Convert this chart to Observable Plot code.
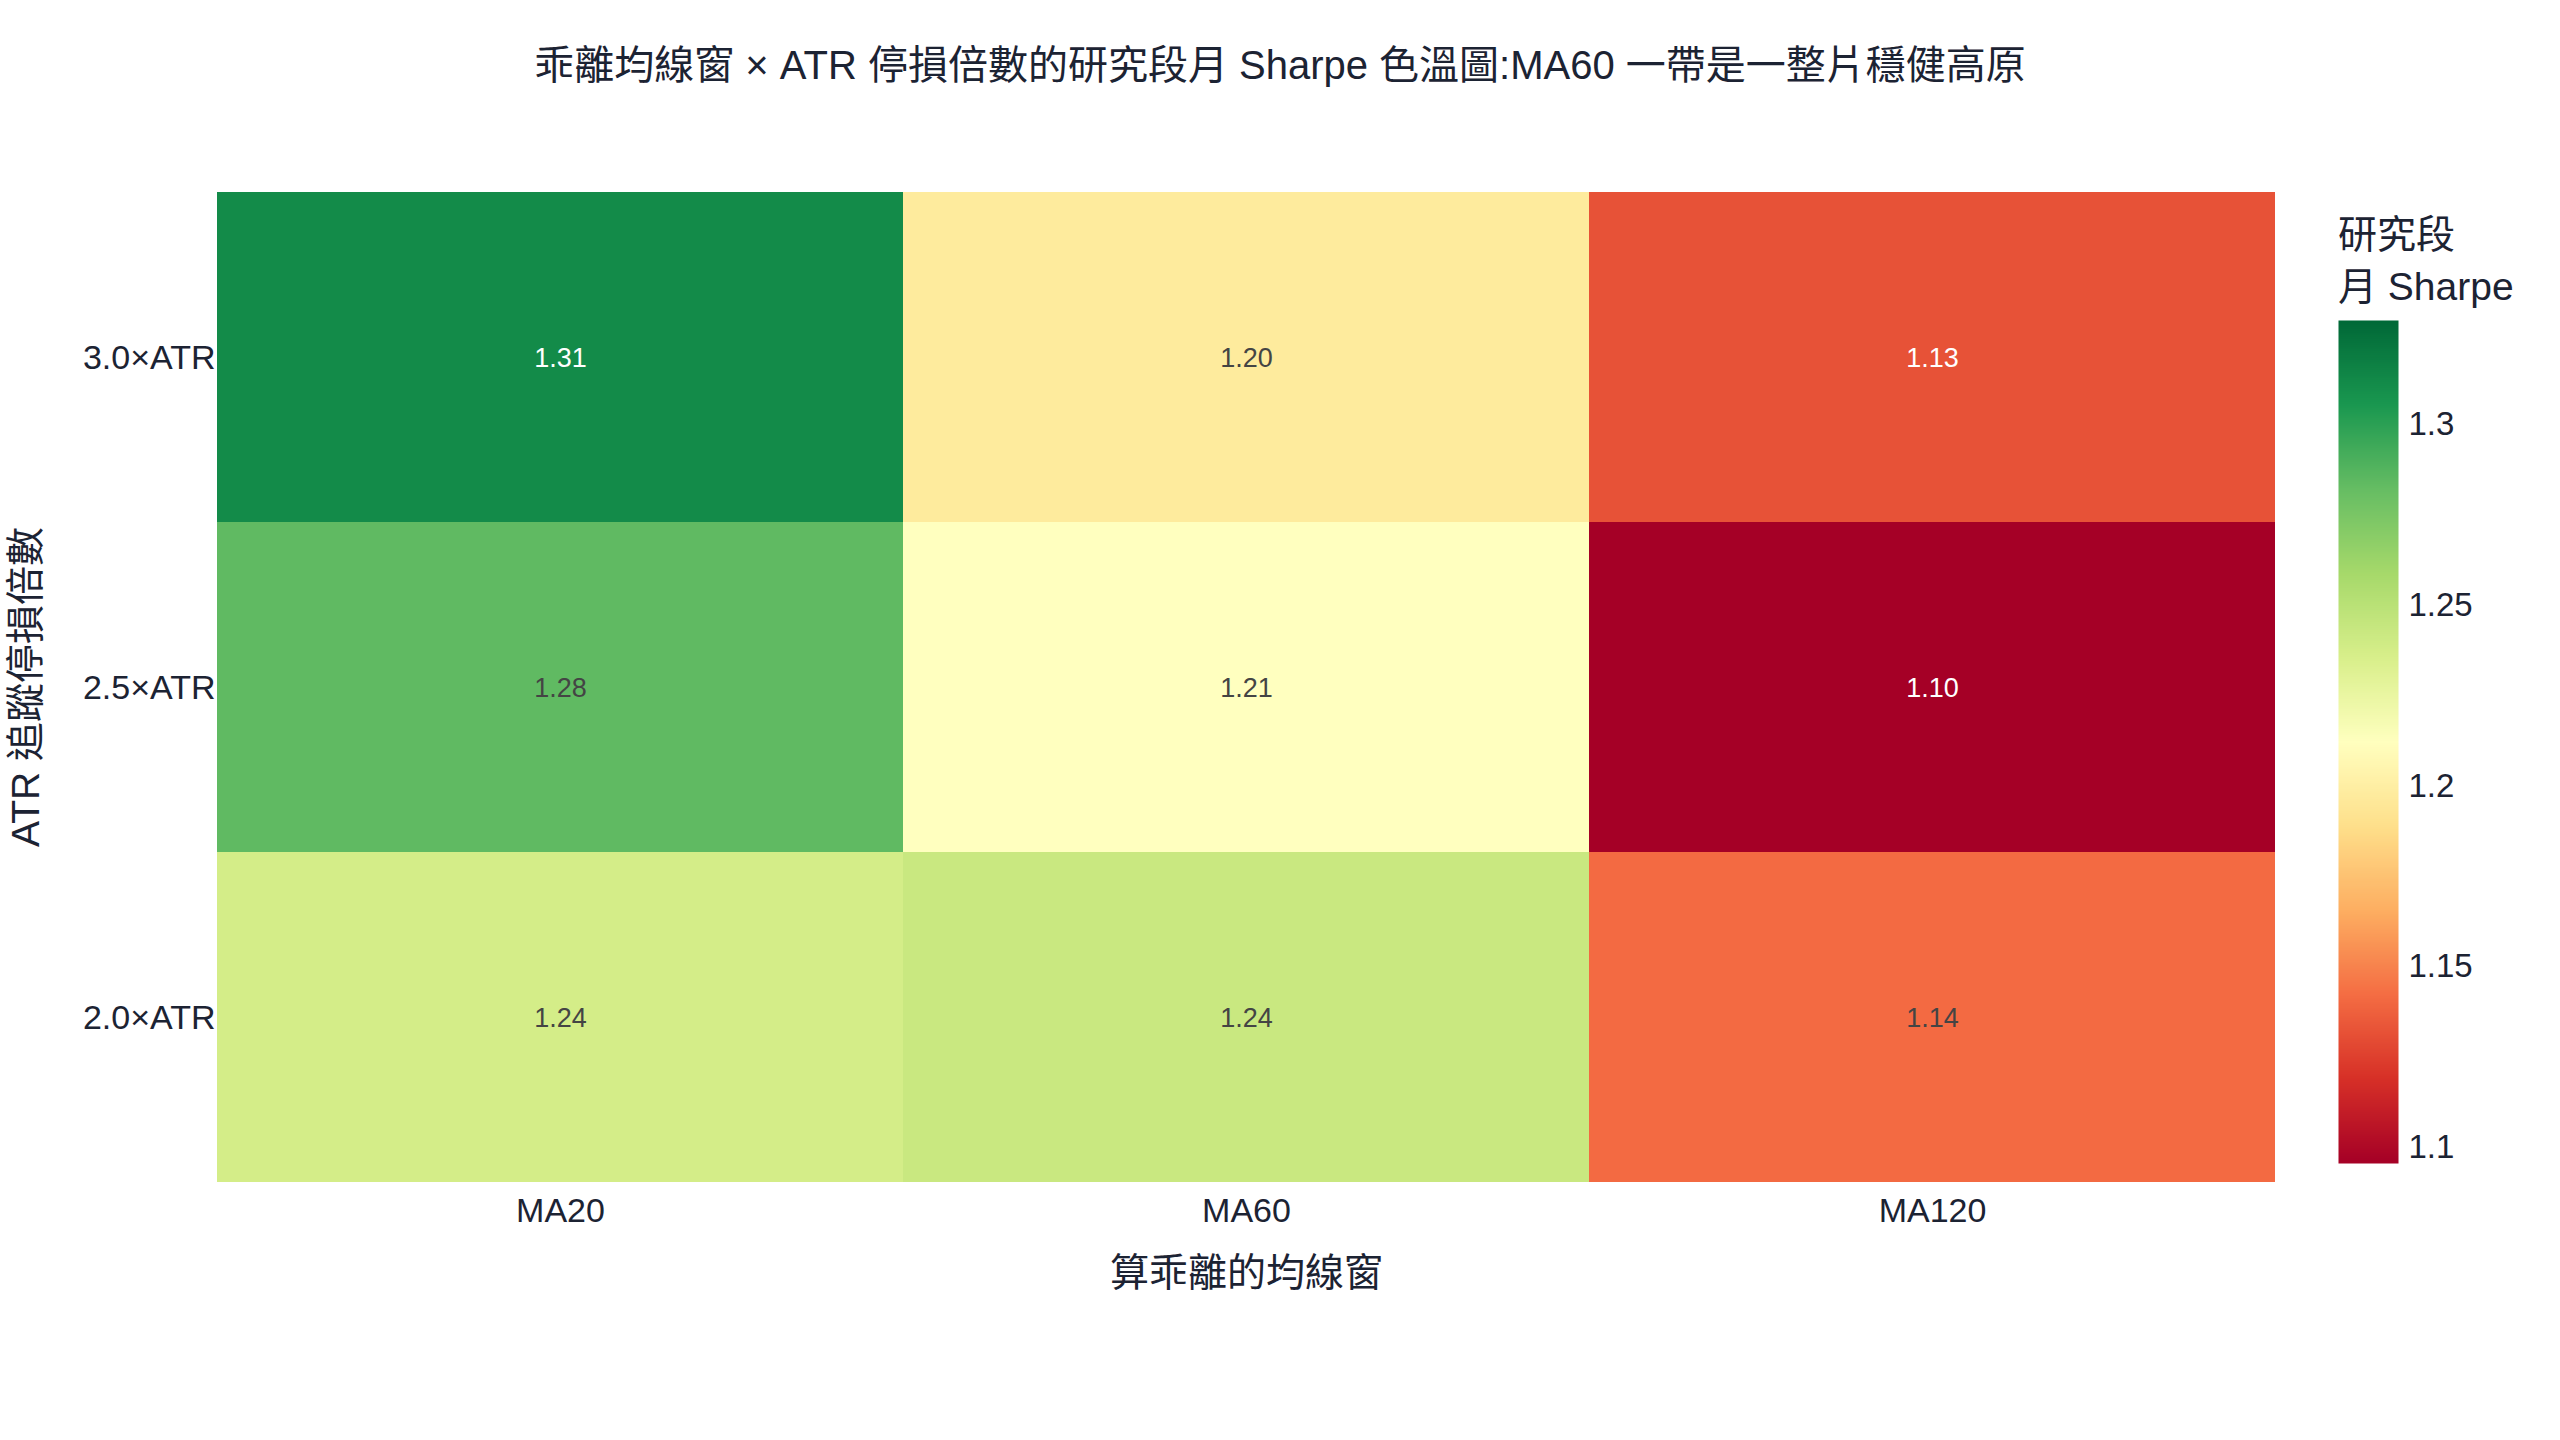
<!DOCTYPE html>
<html>
<head>
<meta charset="utf-8">
<script src="https://cdn.jsdelivr.net/npm/d3@7"></script>
<script src="https://cdn.jsdelivr.net/npm/@observablehq/plot@0.6"></script>
<style>
  html, body { margin: 0; padding: 0; background: #ffffff; }
  #wrap { position: relative; width: 2560px; height: 1440px; background: #ffffff;
          font-family: 'Liberation Sans', 'Noto Sans CJK TC', sans-serif; color: #1c2333; }
  #title { position: absolute; left: 0; top: 38px; width: 2560px; height: 54px; line-height: 54px;
           text-align: center; font-size: 40px; white-space: nowrap; }
  #cbtitle { position: absolute; left: 2338px; top: 209px; font-size: 39px; line-height: 52px; white-space: nowrap; }
  #main { position: absolute; left: 0; top: 0; }
  #cbar { position: absolute; left: 2338px; top: 320px; }
</style>
</head>
<body>
<div id="wrap">
  <div id="main"></div>
  <div id="cbar"></div>
  <div id="title">乖離均線窗 × ATR 停損倍數的研究段月 Sharpe 色溫圖:MA60 一帶是一整片穩健高原</div>
  <div id="cbtitle">研究段<br>月 Sharpe</div>
</div>
<script>
// ---- data ----
const maLabels = ["MA20", "MA60", "MA120"];
const atrLabels = ["3.0×ATR", "2.5×ATR", "2.0×ATR"];
const sharpe30 = [1.312, 1.197, 1.132];
const sharpe25 = [1.284, 1.2122, 1.0955];
const sharpe20 = [1.238, 1.243, 1.141];
const colorDomain = [1.0955, 1.3289];
const colorbarTicks = [1.1, 1.15, 1.2, 1.25, 1.3];
const xTitle = "算乖離的均線窗";
const yTitle = "ATR 追蹤停損倍數";
const rdylgn = ["rgb(165,0,38)", "rgb(215,48,39)", "rgb(244,109,67)", "rgb(253,174,97)",
  "rgb(254,224,139)", "rgb(255,255,191)", "rgb(217,239,139)", "rgb(166,217,106)",
  "rgb(102,189,99)", "rgb(26,152,80)", "rgb(0,104,55)"];

const interp = d3.piecewise(d3.interpolateRgb, rdylgn);
const colorOpts = { type: "linear", domain: colorDomain, interpolate: interp };

const sharpeRows = [sharpe30, sharpe25, sharpe20];
const rows = atrLabels.flatMap((a, i) => maLabels.map((m, j) => {
  const v = sharpeRows[i][j];
  const c = d3.rgb(interp((v - colorDomain[0]) / (colorDomain[1] - colorDomain[0])));
  const bright = (c.r * 299 + c.g * 587 + c.b * 114) / 1000;
  return { atr: a, ma: m, v, label: v.toFixed(2), tc: bright >= 128 ? "#444444" : "#ffffff" };
}));

const font = "'Liberation Sans', 'Noto Sans CJK TC', sans-serif";

const main = Plot.plot({
  width: 2560,
  height: 1440,
  marginLeft: 217,
  marginRight: 285,
  marginTop: 191,
  marginBottom: 258,
  style: { fontFamily: font, color: "#1c2333", background: "transparent", overflow: "visible" },
  x: { domain: maLabels, padding: 0 },
  y: { domain: atrLabels, padding: 0 },
  color: colorOpts,
  marks: [
    Plot.cell(rows, { x: "ma", y: "atr", fill: "v", inset: 0 }),
    Plot.text(rows, { x: "ma", y: "atr", dy: 1, text: "label", fill: "tc", fontSize: 27, fontFamily: font }),
    Plot.axisX({ tickSize: 0, tickPadding: 15, fontSize: 34, label: null }),
    Plot.axisY({ tickSize: 0, tickPadding: 2, fontSize: 34, dy: 1, label: null }),
    Plot.text([xTitle], { frameAnchor: "bottom", dy: 91, fontSize: 39, textAnchor: "middle", lineAnchor: "middle", fill: "#1c2333" }),
    Plot.text([yTitle], { frameAnchor: "left", dx: -191, rotate: -90, fontSize: 39, textAnchor: "middle", lineAnchor: "middle", fill: "#1c2333" })
  ]
});
document.getElementById("main").appendChild(main);

const cbar = Plot.plot({
  width: 222,
  height: 843,
  marginLeft: 0,
  marginRight: 162,
  marginTop: 0,
  marginBottom: 0,
  style: { fontFamily: font, color: "#1c2333", background: "transparent", overflow: "visible" },
  x: { domain: [0, 1], axis: null },
  y: { domain: colorDomain },
  color: colorOpts,
  marks: [
    Plot.raster({ x1: 0, x2: 1, y1: colorDomain[0], y2: colorDomain[1],
      fill: (x, y) => y, width: 2, height: 420, imageRendering: "auto" }),
    Plot.axisY({ anchor: "right", ticks: colorbarTicks, tickSize: 0, tickPadding: 10,
      fontSize: 33, tickFormat: d => String(d), label: null })
  ]
});
document.getElementById("cbar").appendChild(cbar);
</script>
</body>
</html>
